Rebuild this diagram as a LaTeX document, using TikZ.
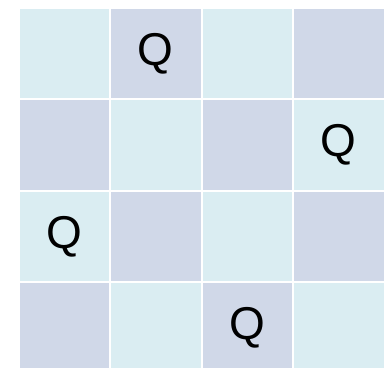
\documentclass[tikz,border=0pt]{standalone}
\usepackage{fontspec}
\setsansfont{Liberation Sans}
\usepackage{tikz}
\usetikzlibrary{positioning}

\definecolor{cellcyan}{RGB}{218,237,242}
\definecolor{celllav}{RGB}{208,216,232}

\begin{document}
\begin{tikzpicture}[
    x=1pt, y=1pt,
    font=\sffamily\fontsize{46}{46}\selectfont,
    % Estilos das casas do tabuleiro
    cell/.style={rectangle, inner sep=0pt, minimum size=89.5pt, align=center},
    light/.style={cell, fill=cellcyan},
    dark/.style={cell, fill=celllav}
]
    \useasboundingbox (0,0) rectangle (385,-367);

    % ================= LINHA 1 =================
    \node[light] (a1) at (64.25, -53.45) {};
    \node[dark]  (b1) at (155.75, -53.45) {Q};
    \node[light] (c1) at (247.25, -53.45) {};
    \node[dark]  (d1) at (338.75, -53.45) {};

    % ================= LINHA 2 =================
    \node[dark]  (a2) at (64.25, -144.95) {};
    \node[light] (b2) at (155.75, -144.95) {};
    \node[dark]  (c2) at (247.25, -144.95) {};
    \node[light] (d2) at (338.75, -144.95) {Q};

    % ================= LINHA 3 =================
    \node[light] (a3) at (64.25, -236.45) {Q};
    \node[dark]  (b3) at (155.75, -236.45) {};
    \node[light] (c3) at (247.25, -236.45) {};
    \node[dark]  (d3) at (338.75, -236.45) {};

    % ================= LINHA 4 =================
    \node[dark]  (a4) at (64.25, -327.95) {};
    \node[light] (b4) at (155.75, -327.95) {};
    \node[dark]  (c4) at (247.25, -327.95) {Q};
    \node[light] (d4) at (338.75, -327.95) {};

\end{tikzpicture}
\end{document}
